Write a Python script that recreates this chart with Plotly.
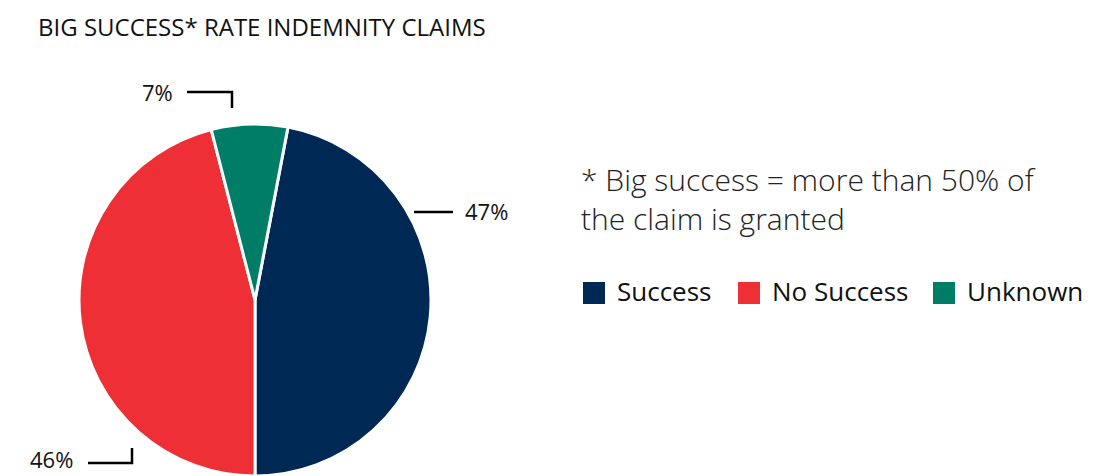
import plotly.graph_objects as go

W, H = 1107, 476

title_text = "BIG SUCCESS* RATE INDEMNITY CLAIMS"
labels = ["Success", "No Success", "Unknown"]
values = [47, 46, 7]
colors = ["#002855", "#ee2f35", "#007d66"]
pct_labels = ["47%", "46%", "7%"]
note_lines = ["* Big success = more than 50% of", "the claim is granted"]

FONT = "Open Sans"

# pie geometry in pixels
cx, cy, r = 255, 300, 176

fig = go.Figure()
fig.add_trace(go.Pie(
    labels=labels, values=values, sort=False, direction="clockwise",
    rotation=10.8, textinfo="none", hoverinfo="label+percent",
    marker=dict(colors=colors, line=dict(color="white", width=3)),
    domain=dict(x=[(cx - r) / W, (cx + r) / W], y=[(H - cy - r) / H, (H - cy + r) / H]),
    showlegend=False,
))

# invisible overlay axis in pixel units
fig.add_trace(go.Scatter(x=[0, W], y=[0, H], mode="markers", marker=dict(opacity=0),
                         hoverinfo="skip", showlegend=False))

shapes = []
annotations = []

line_style = dict(color="black", width=2.5)
# leader lines and label anchor points
leaders = {
    "47%": ([(414, 212), (453, 212)], (463, 211), "left"),
    "7%": ([(187, 92), (232, 92), (232, 108)], (175, 92), "right"),
    "46%": ([(88, 463), (132, 463), (132, 448)], (75, 459), "right"),
}
for lab in pct_labels:
    pts, (tx, ty), anchor = leaders[lab]
    path = "M" + " L".join(f"{x},{y}" for x, y in pts)
    shapes.append(dict(type="path", path=path, xref="x", yref="y", line=line_style))
    annotations.append(dict(x=tx, y=ty, xref="x", yref="y", text=lab, showarrow=False,
                            xanchor=anchor, yanchor="middle",
                            font=dict(family=FONT, size=22, color="#111")))

# title
annotations.append(dict(x=36, y=26, xref="x", yref="y", text=title_text, showarrow=False,
                        xanchor="left", yanchor="middle",
                        font=dict(family=FONT, size=24, color="#111")))

# note (single multi-line text)
annotations.append(dict(x=579, y=199, xref="x", yref="y", text="<br>".join(note_lines),
                        showarrow=False, xanchor="left", yanchor="middle", align="left",
                        font=dict(family=FONT, size=30, color="#222", weight=300)))

# manual legend
leg_x = [583, 738, 933]
for lab, col, lx in zip(labels, colors, leg_x):
    shapes.append(dict(type="rect", x0=lx, x1=lx + 22, y0=282, y1=304, xref="x", yref="y",
                       fillcolor=col, line=dict(width=0)))
    annotations.append(dict(x=lx + 32, y=291, xref="x", yref="y", text=lab, showarrow=False,
                            xanchor="left", yanchor="middle",
                            font=dict(family=FONT, size=26, color="#111")))

fig.update_layout(
    width=W, height=H, margin=dict(l=0, r=0, t=0, b=0),
    paper_bgcolor="white", plot_bgcolor="rgba(0,0,0,0)",
    xaxis=dict(range=[0, W], visible=False, fixedrange=True),
    yaxis=dict(range=[H, 0], visible=False, fixedrange=True),
    shapes=shapes, annotations=annotations,
)

fig.write_html("out.html")
